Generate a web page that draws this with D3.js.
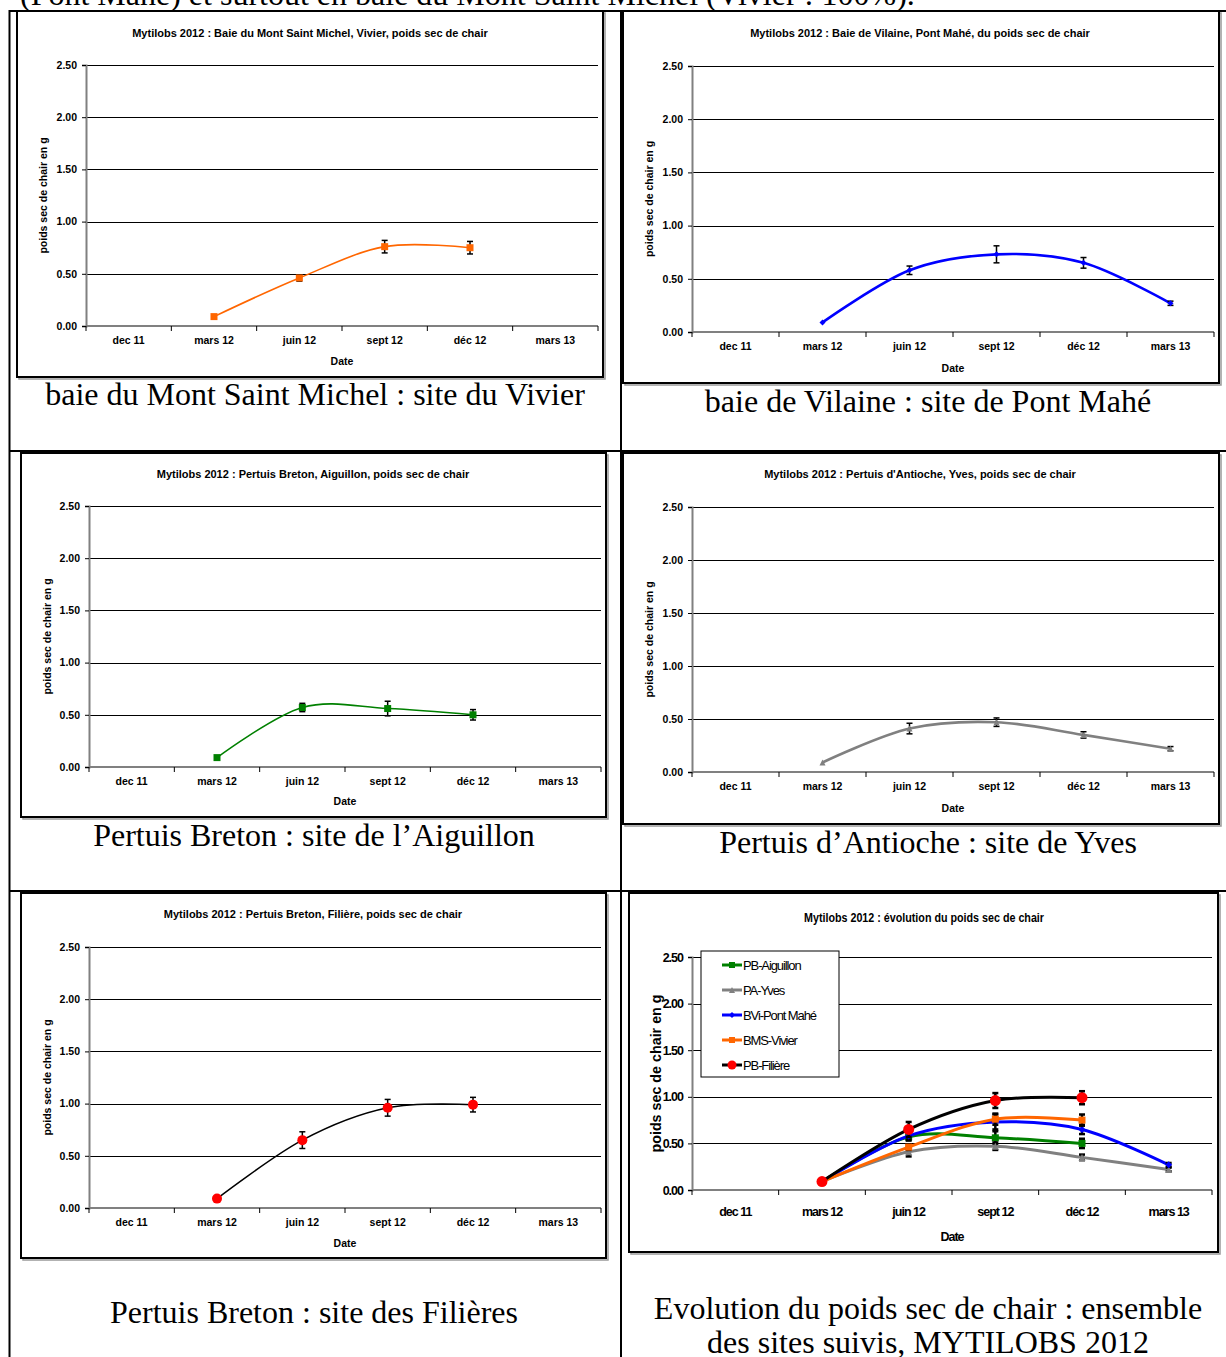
<!DOCTYPE html>
<html><head><meta charset="utf-8">
<script src="https://cdn.jsdelivr.net/npm/d3@7"></script>
<style>
body{margin:0;background:#fff;}
svg{display:block;}
</style></head>
<body>
<svg id="c" width="1226" height="1357"></svg>
<script>
// ---------- DATA ----------
const categories = ["dec 11", "mars 12", "juin  12", "sept 12", "déc 12", "mars 13"];
const yTicks = [0, 0.5, 1.0, 1.5, 2.0, 2.5];
const yMax = 2.5;

const vivierValues   = [null, 0.09, 0.46, 0.76, 0.75, null];
const vivierErrors   = [null, 0.00, 0.03, 0.06, 0.06, null];
const pontMaheValues = [null, 0.09, 0.58, 0.73, 0.65, 0.27];
const pontMaheErrors = [null, 0.00, 0.04, 0.08, 0.05, 0.02];
const aiguillonValues = [null, 0.09, 0.57, 0.56, 0.50, null];
const aiguillonErrors = [null, 0.00, 0.04, 0.07, 0.05, null];
const yvesValues     = [null, 0.09, 0.41, 0.47, 0.35, 0.22];
const yvesErrors     = [null, 0.00, 0.05, 0.04, 0.03, 0.02];
const filiereValues  = [null, 0.09, 0.65, 0.96, 0.99, null];
const filiereErrors  = [null, 0.00, 0.08, 0.08, 0.07, null];

const seriesNames = ["PB-Aiguillon", "PA-Yves", "BVi-Pont Mahé", "BMS-Vivier", "PB-Filière"];

const panelTitles = [
  "Mytilobs 2012 : Baie du Mont Saint Michel, Vivier, poids sec de chair",
  "Mytilobs 2012 : Baie de Vilaine, Pont Mahé, du poids sec de chair",
  "Mytilobs 2012 : Pertuis Breton, Aiguillon, poids sec de chair",
  "Mytilobs 2012 : Pertuis d'Antioche, Yves, poids sec de chair",
  "Mytilobs 2012 : Pertuis Breton, Filière, poids sec de chair",
  "Mytilobs 2012 : évolution du poids sec de chair"
];
const captions = [
  ["baie du Mont Saint Michel : site du Vivier"],
  ["baie de Vilaine : site de Pont Mahé"],
  ["Pertuis Breton : site de l\u2019Aiguillon"],
  ["Pertuis d\u2019Antioche : site de Yves"],
  ["Pertuis Breton : site des Filières"],
  ["Evolution du poids sec de chair : ensemble", "des sites suivis, MYTILOBS 2012"]
];
const introText = "(Pont Mahé) et surtout en baie du Mont Saint Michel (Vivier : 100%).";
const yAxisTitle = "poids sec de chair en g";
const xAxisTitle = "Date";

// ---------- STYLES ----------
const seriesStyle = {
  aiguillon: {values: aiguillonValues, errors: aiguillonErrors, line: "#008000", fill: "#008000", marker: "square"},
  yves:      {values: yvesValues, errors: yvesErrors, line: "#808080", fill: "#808080", marker: "triangle"},
  pontmahe:  {values: pontMaheValues, errors: pontMaheErrors, line: "#0000FF", fill: "#0000FF", marker: "diamond"},
  vivier:    {values: vivierValues, errors: vivierErrors, line: "#FF6600", fill: "#FF6600", marker: "square"},
  filiere:   {values: filiereValues, errors: filiereErrors, line: "#000000", fill: "#FF0000", marker: "circle"}
};

const svg = d3.select("#c");
const SANS = "'Liberation Sans', Arial, sans-serif";
const SERIF = "'Liberation Serif', 'Times New Roman', serif";
const CAP = 32;

// ---------- PAGE / TABLE ----------
svg.append("text").attr("x", 20).attr("y", 5).attr("font-family", SERIF)
  .attr("font-size", CAP).attr("fill", "#000").text(introText);

const tbl = svg.append("g").attr("stroke", "#000").attr("stroke-width", 2);
tbl.append("line").attr("x1", 9).attr("x2", 1226).attr("y1", 11).attr("y2", 11);
tbl.append("line").attr("x1", 9.5).attr("x2", 9.5).attr("y1", 10).attr("y2", 1357);
tbl.append("line").attr("x1", 621).attr("x2", 621).attr("y1", 10).attr("y2", 1357);
tbl.append("line").attr("x1", 9).attr("x2", 1226).attr("y1", 451).attr("y2", 451);
tbl.append("line").attr("x1", 9).attr("x2", 1226).attr("y1", 891).attr("y2", 891);

// ---------- PANEL DRAWER ----------
function markerPath(type, size) {
  const s = size;
  if (type === "square") return `M${-s/2},${-s/2}h${s}v${s}h${-s}Z`;
  if (type === "diamond") return `M0,${-s/2}L${s/2},0L0,${s/2}L${-s/2},0Z`;
  if (type === "triangle") return `M0,${-s/2}L${s/2},${s/2}L${-s/2},${s/2}Z`;
  return d3.symbol(d3.symbolCircle, Math.PI * (s/2) * (s/2))();
}

function drawPanel(p) {
  const g = svg.append("g");
  // frame
  g.append("rect").attr("x", p.frame[0] + 2).attr("y", p.frame[1] + 2)
    .attr("width", p.frame[2]).attr("height", p.frame[3]).attr("fill", "none")
    .attr("stroke", "#999").attr("stroke-width", 1.5);
  g.append("rect").attr("x", p.frame[0]).attr("y", p.frame[1])
    .attr("width", p.frame[2]).attr("height", p.frame[3]).attr("fill", "#fff")
    .attr("stroke", "#000").attr("stroke-width", 2);

  const x = d3.scaleBand().domain(categories).range([p.x0, p.x1]).padding(0);
  const y = d3.scaleLinear().domain([0, yMax]).range([p.y0, p.y1]);
  const cx = c => x(c) + x.bandwidth() / 2;

  // title
  const t = g.append("text").attr("x", p.titleX).attr("y", p.titleY)
    .attr("text-anchor", "middle").attr("font-family", SANS).attr("font-weight", "bold")
    .attr("font-size", p.titleSize).attr("fill", "#000").text(p.title);
  if (p.titleLen) t.attr("textLength", p.titleLen).attr("lengthAdjust", "spacingAndGlyphs");

  // gridlines
  g.append("g").selectAll("line").data(yTicks.filter(v => v > 0)).join("line")
    .attr("x1", p.x0).attr("x2", p.x1).attr("y1", d => Math.round(y(d)) + 0.5).attr("y2", d => Math.round(y(d)) + 0.5)
    .attr("stroke", p.gridColor).attr("stroke-width", 1);

  // y axis
  const ya = g.append("g").attr("transform", `translate(${p.x0},0)`)
    .call(d3.axisLeft(y).tickValues(yTicks).tickFormat(d3.format(".2f")).tickSize(4).tickPadding(5));
  ya.select(".domain").attr("stroke", "#808080").attr("stroke-width", 2);
  ya.selectAll(".tick line").attr("stroke", "#000");
  ya.selectAll(".tick text").attr("font-family", SANS).attr("font-weight", "bold")
    .attr("font-size", p.tickSize).attr("fill", "#000").attr("letter-spacing", p.tickSpacing || 0);

  // x axis
  const xa = g.append("g").attr("transform", `translate(0,${p.y0})`)
    .call(d3.axisBottom(x).tickSize(0).tickPadding(p.xLabPad));
  xa.select(".domain").remove();
  xa.selectAll(".tick text").attr("font-family", SANS).attr("font-weight", "bold")
    .attr("font-size", p.tickSize).attr("fill", "#000").attr("letter-spacing", p.tickSpacing || 0);
  g.append("line").attr("x1", p.x0).attr("x2", p.x1).attr("y1", p.y0).attr("y2", p.y0)
    .attr("stroke", "#808080").attr("stroke-width", 2);
  const bounds = categories.map(c => x(c)).concat([p.x1]);
  g.append("g").selectAll("line").data(bounds).join("line")
    .attr("x1", d => d).attr("x2", d => d).attr("y1", p.y0).attr("y2", p.y0 + 5)
    .attr("stroke", "#000").attr("stroke-width", 1);

  // axis titles
  g.append("text").attr("x", (p.x0 + p.x1) / 2).attr("y", p.dateY).attr("text-anchor", "middle")
    .attr("font-family", SANS).attr("font-weight", "bold").attr("font-size", p.dateSize)
    .attr("letter-spacing", p.tickSpacing || 0).text(xAxisTitle);
  g.append("text").attr("transform", `translate(${p.ylabX},${(p.y0 + p.y1) / 2}) rotate(-90)`)
    .attr("text-anchor", "middle").attr("font-family", SANS).attr("font-weight", "bold")
    .attr("font-size", p.ylabSize).text(yAxisTitle);

  // legend
  if (p.legend) {
    const L = p.legend;
    const lg = g.append("g");
    lg.append("rect").attr("x", L.x).attr("y", L.y).attr("width", L.w).attr("height", L.h)
      .attr("fill", "#fff").attr("stroke", "#000").attr("stroke-width", 1);
    p.series.forEach((k, i) => {
      const st = seriesStyle[k];
      const yy = L.y + 14 + i * 25;
      lg.append("line").attr("x1", L.x + 21).attr("x2", L.x + 41).attr("y1", yy).attr("y2", yy)
        .attr("stroke", st.line).attr("stroke-width", 3);
      lg.append("path").attr("d", markerPath(st.marker, st.marker === "circle" ? 9 : 6))
        .attr("transform", `translate(${L.x + 31},${yy})`).attr("fill", st.fill);
      lg.append("text").attr("x", L.x + 42).attr("y", yy + 4.5).attr("font-family", SANS)
        .attr("font-size", 13).attr("letter-spacing", -1.1).attr("fill", "#000").text(seriesNames[L.order[i]]);
    });
  }

  // series
  p.series.forEach(k => {
    const st = seriesStyle[k];
    const pts = categories.map((c, i) => ({c, v: st.values[i], e: st.errors[i]})).filter(d => d.v !== null);
    const line = d3.line().x(d => cx(d.c)).y(d => y(d.v)).curve(d3.curveCatmullRom.alpha(0));
    g.append("path").attr("d", line(pts)).attr("fill", "none").attr("stroke", st.line)
      .attr("stroke-width", p.lineW);
    const eb = g.append("g").attr("stroke", "#000").attr("stroke-width", p.errW);
    pts.filter(d => d.e > 0).forEach(d => {
      const xx = cx(d.c);
      eb.append("line").attr("x1", xx).attr("x2", xx).attr("y1", y(d.v + d.e)).attr("y2", y(d.v - d.e));
      eb.append("line").attr("x1", xx - 3).attr("x2", xx + 3).attr("y1", y(d.v + d.e)).attr("y2", y(d.v + d.e));
      eb.append("line").attr("x1", xx - 3).attr("x2", xx + 3).attr("y1", y(d.v - d.e)).attr("y2", y(d.v - d.e));
    });
    g.append("g").selectAll("path").data(pts).join("path")
      .attr("d", markerPath(st.marker, st.marker === "circle" ? p.circleSize : p.markSize))
      .attr("transform", d => `translate(${cx(d.c)},${y(d.v)})`).attr("fill", st.fill);
  });

  // captions
  p.caption.forEach((line, i) => {
    svg.append("text").attr("x", p.capX).attr("y", p.capY + i * 34).attr("text-anchor", "middle")
      .attr("font-family", SERIF).attr("font-size", CAP).attr("fill", "#000").text(line);
  });
}

const base = {titleSize: 11, tickSize: 10.5, dateSize: 10.5, ylabSize: 10.5, xLabPad: 11, gridColor: "#000",
  lineW: 1.6, errW: 1.5, markSize: 7, circleSize: 10};

drawPanel(Object.assign({}, base, {
  frame: [17, 11, 586, 366], x0: 86, x1: 598, y0: 326, y1: 65, titleX: 310, titleY: 37,
  dateY: 365, ylabX: 47, title: panelTitles[0], series: ["vivier"], caption: captions[0], capX: 315, capY: 405
}));
drawPanel(Object.assign({}, base, {
  frame: [623, 11, 596, 372], x0: 692, x1: 1214, y0: 332, y1: 66, titleX: 920, titleY: 37,
  dateY: 372, ylabX: 653, title: panelTitles[1], series: ["pontmahe"], lineW: 2.6, markSize: 6,
  caption: captions[1], capX: 928, capY: 412
}));
drawPanel(Object.assign({}, base, {
  frame: [21, 453, 585, 364], x0: 89, x1: 601, y0: 767, y1: 506, titleX: 313, titleY: 478,
  dateY: 805, ylabX: 51, title: panelTitles[2], series: ["aiguillon"], caption: captions[2], capX: 314, capY: 846
}));
drawPanel(Object.assign({}, base, {
  frame: [623, 453, 596, 371], x0: 692, x1: 1214, y0: 772, y1: 507, titleX: 920, titleY: 478,
  dateY: 812, ylabX: 653, title: panelTitles[3], series: ["yves"], lineW: 2.6, markSize: 6,
  caption: captions[3], capX: 928, capY: 853
}));
drawPanel(Object.assign({}, base, {
  frame: [21, 893, 585, 365], x0: 89, x1: 601, y0: 1208, y1: 947, titleX: 313, titleY: 918,
  dateY: 1247, ylabX: 51, title: panelTitles[4], series: ["filiere"], lineW: 1.5,
  caption: captions[4], capX: 314, capY: 1323
}));
drawPanel(Object.assign({}, base, {
  frame: [629, 893, 589, 359], x0: 692, x1: 1212, y0: 1190, y1: 957, titleX: 924, titleY: 922,
  titleSize: 12, titleLen: 240, tickSize: 12.5, tickSpacing: -1, dateSize: 12.5, ylabSize: 14.3, xLabPad: 17,
  dateY: 1241, ylabX: 661, title: panelTitles[5], lineW: 3, errW: 2.5, markSize: 7, circleSize: 11,
  gridColor: "#000",
  series: ["aiguillon", "yves", "pontmahe", "vivier", "filiere"],
  legend: {x: 701, y: 951, w: 138, h: 126, order: [0, 1, 2, 3, 4]},
  caption: captions[5], capX: 928, capY: 1319
}));
</script>
</body></html>
